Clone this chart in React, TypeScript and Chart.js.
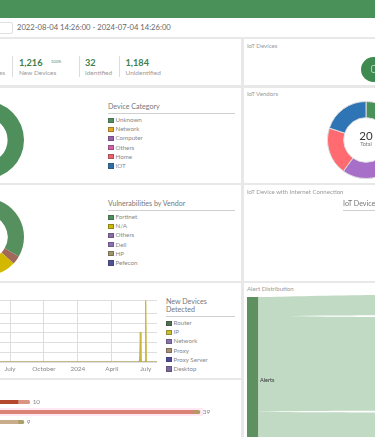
import React, { useEffect, useRef } from "react";
import { Chart, registerables } from "chart.js";

Chart.register(...registerables);

const FONT = "Lato, 'Open Sans', sans-serif";

const categoryLabels = ["Unknown", "Network", "Computer", "Others", "Home", "IOT"];
const categoryColors = ["#4f8f5b", "#e8a820", "#9a5fb0", "#d65fa8", "#f0606a", "#2b70a8"];
const categoryValues = [1184, 0, 0, 0, 0, 0];

const vulnLegend = ["Fortinet", "N/A", "Others", "Dell", "HP", "Pefecon"];
const vulnLegendColors = ["#4f8f5b", "#c8b800", "#8a6aa8", "#8a70b8", "#a09468", "#4f4f9a"];
const vulnLabels = ["Fortinet", "HP", "N/A", "Others", "Dell", "Pefecon"];
const vulnColors = ["#55905e", "#a0695a", "#d2b900", "#8a6aa8", "#8a70b8", "#4f4f9a"];
const vulnValues = [33.3, 3.6, 21, 15, 15, 12];

const vendorLabels = ["Vendor A", "Vendor B", "Vendor C", "Vendor D", "Vendor E"];
const vendorColors = ["#4a9159", "#e8a820", "#a86fc8", "#ff6b70", "#2f74b5"];
const vendorValues = [4, 4, 4, 4, 4];

const newDeviceLegend = ["Router", "IP", "Network", "Proxy", "Proxy Server", "Desktop"];
const newDeviceColors = ["#4f6f4f", "#c8c030", "#8a70b0", "#a89070", "#4a48a0", "#7a68a0"];
const monthTicks: Record<number, string> = { 0: "July", 3: "October", 6: "2024", 9: "April", 12: "July" };
const ipX = [-1, 11.46, 11.52, 11.58, 11.94, 12, 12.06, 13];
const ipY = [0, 0, 31, 0, 0, 63.5, 0, 0];
const proxyServerX = [-1, 11.42, 11.52, 11.62, 11.92, 12, 12.08, 13];
const proxyServerY = [0, 0, 5, 0, 0, 1.5, 0, 0];

const barLabels = ["A", "B", "C"];
const barTotals = [10, 39, 9];
const barPrimary = [8, 38, 8];
const barSecondary = [2, 1, 1];
const barPrimaryColors = ["#b4492f", "#da8273", "#c9ac8c"];
const barSecondaryColors = ["#d99482", "#b29c63", "#aaa06a"];

const flowX = [0, 20, 45, 100];
const band1Top = [0, -0.3, -1, -2];
const band1Bottom = [19, 19, 18.7, 18.3];
const band2Top = [19, 19, 19.4, 19.9];
const band2Bottom = [114.6, 114.3, 114.0, 113.8];
const band3Top = [114.6, 114.9, 115.2, 115.4];
const band3Bottom = [146, 146, 146, 146];
const nodeX = [-10, 0];
const nodeTop = [0, 0];
const nodeBottom = [146, 146];

function useChart(make: (c: HTMLCanvasElement) => Chart) {
  const ref = useRef<HTMLCanvasElement | null>(null);
  useEffect(() => {
    if (!ref.current) return;
    const chart = make(ref.current);
    return () => chart.destroy();
  }, []);
  return ref;
}

function Abs({ x, y, w, h, bg, style, children }: any) {
  return (
    <div style={{ position: "absolute", left: x, top: y, width: w, height: h, background: bg, ...style }}>{children}</div>
  );
}

function Txt({ x, y, size = 6.1, color = "#9a9a9a", weight = 400, children, right }: any) {
  return (
    <div
      style={{
        position: "absolute",
        left: right ? undefined : x,
        right: right ? 375 - x : undefined,
        top: y - size * 0.6,
        fontSize: size,
        lineHeight: `${size * 1.2}px`,
        color,
        fontWeight: weight,
        whiteSpace: "nowrap",
      }}
    >
      {children}
    </div>
  );
}

function Donut({ x, y, size, labels, values, colors, border, borderColor }: any) {
  const ref = useChart(
    (c) =>
      new Chart(c, {
        type: "doughnut",
        data: { labels, datasets: [{ data: values, backgroundColor: colors, borderWidth: border, borderColor }] },
        options: {
          animation: false,
          responsive: false,
          cutout: "58%",
          plugins: { legend: { display: false }, tooltip: { enabled: false } },
        },
      })
  );
  return <canvas ref={ref} width={size} height={size} style={{ position: "absolute", left: x, top: y, width: size, height: size }} />;
}

function Legend({ x, y, w, title, labels, colors }: any) {
  const titles = Array.isArray(title) ? title : [title];
  const lineY = y + 6 + (titles.length - 1) * 8;
  return (
    <>
      {titles.map((t: string, i: number) => (
        <Txt key={t} x={x} y={y + i * 8} size={7.1} color="#777">
          {t}
        </Txt>
      ))}
      <Abs x={x} y={lineY} w={w} h={1} bg="#cfcfcf" />
      {labels.map((l: string, i: number) => (
        <React.Fragment key={l}>
          <Abs
            x={x}
            y={lineY + 4.5 + i * 9.1}
            w={3.6}
            h={3.6}
            bg={colors[i]}
            style={{ border: "1px solid rgba(60,60,60,0.4)", boxSizing: "content-box" }}
          />
          <Txt x={x + 7.5} y={lineY + 7 + i * 9.1} size={6.2} color="#888">
            {l}
          </Txt>
        </React.Fragment>
      ))}
    </>
  );
}

function LineChart() {
  const ref = useChart(
    (c) =>
      new Chart(c, {
        type: "line",
        data: {
          datasets: [
            {
              label: "IP",
              data: ipX.map((x, i) => ({ x, y: ipY[i] })),
              borderColor: "#c8b840",
              backgroundColor: "rgba(200,184,64,0.8)",
              borderWidth: 1,
              pointRadius: 0,
              fill: true,
              tension: 0,
            },
            {
              label: "Proxy Server",
              data: proxyServerX.map((x, i) => ({ x, y: proxyServerY[i] })),
              borderColor: "#8078b8",
              backgroundColor: "rgba(122,116,184,0.5)",
              borderWidth: 1.2,
              pointRadius: 0,
              fill: true,
              tension: 0,
            },
          ],
        },
        options: {
          animation: false,
          responsive: false,
          layout: { padding: 0 },
          plugins: { legend: { display: false }, tooltip: { enabled: false } },
          scales: {
            x: {
              type: "linear",
              min: -0.887,
              max: 13,
              grid: { color: "#dddddd", drawTicks: false },
              border: { display: false },
              ticks: {
                stepSize: 3,
                includeBounds: false,
                maxRotation: 0,
                autoSkip: false,
                padding: 3,
                color: "#888",
                font: { family: FONT, size: 6.4 },
                callback: (v: any) => monthTicks[v] ?? "",
              },
              afterFit: (s: any) => {
                s.height = 12;
              },
            },
            y: {
              min: 0,
              max: 64,
              grid: { color: "#dedede", drawTicks: false },
              border: { display: false },
              ticks: { display: false, stepSize: 10 },
            },
          },
        },
      })
  );
  return <canvas ref={ref} width={157} height={74} style={{ position: "absolute", left: 0, top: 300, width: 157, height: 74 }} />;
}

function BarChart() {
  const totalsPlugin = {
    id: "totals",
    afterDatasetsDraw(chart: any) {
      const { ctx, scales } = chart;
      ctx.save();
      ctx.font = `6.4px ${FONT}`;
      ctx.fillStyle = "#888";
      ctx.textBaseline = "middle";
      barTotals.forEach((t, i) => {
        ctx.fillText(String(t), scales.x.getPixelForValue(t) + 3, scales.y.getPixelForValue(i) - 0.5);
      });
      ctx.restore();
    },
  };
  const ref = useChart(
    (c) =>
      new Chart(c, {
        type: "bar",
        data: {
          labels: barLabels,
          datasets: [
            { data: barPrimary, backgroundColor: barPrimaryColors, barThickness: 3.5, borderRadius: 1 },
            { data: barSecondary, backgroundColor: barSecondaryColors, barThickness: 3.5, borderRadius: 1.5 },
          ],
        },
        plugins: [totalsPlugin],
        options: {
          indexAxis: "y",
          animation: false,
          responsive: false,
          layout: { padding: 0 },
          plugins: { legend: { display: false }, tooltip: { enabled: false } },
          scales: {
            x: { stacked: true, display: false, min: 0, max: 45 },
            y: { stacked: true, display: false },
          },
        },
      })
  );
  return <canvas ref={ref} width={264} height={30} style={{ position: "absolute", left: -28.6, top: 397, width: 264, height: 30 }} />;
}

function SankeyChart() {
  const flow = "#c1dac4";
  const edge = (xs: number[], ys: number[], fill: any, color: string) => ({
    data: xs.map((x, i) => ({ x, y: ys[i] })),
    borderWidth: 0,
    pointRadius: 0,
    tension: 0.3,
    backgroundColor: color,
    fill,
  });
  const ref = useChart(
    (c) =>
      new Chart(c, {
        type: "line",
        data: {
          datasets: [
            edge(flowX, band1Top, "+1", flow),
            edge(flowX, band1Bottom, false, flow),
            edge(flowX, band2Top, "+1", flow),
            edge(flowX, band2Bottom, false, flow),
            edge(flowX, band3Top, "+1", flow),
            edge(flowX, band3Bottom, false, flow),
            edge(nodeX, nodeTop, "+1", "#5f9060"),
            edge(nodeX, nodeBottom, false, "#5f9060"),
          ],
        },
        options: {
          animation: false,
          responsive: false,
          layout: { padding: 0 },
          plugins: { legend: { display: false }, tooltip: { enabled: false } },
          scales: {
            x: { type: "linear", display: false, min: -10, max: 100 },
            y: { type: "linear", display: false, reverse: true, min: -2, max: 140 },
          },
        },
      })
  );
  return <canvas ref={ref} width={128} height={142} style={{ position: "absolute", left: 247, top: 295, width: 128, height: 142 }} />;
}

export default function App() {
  const card = { background: "#fff" };
  return (
    <div
      style={{
        position: "fixed",
        left: 0,
        top: 0,
        width: 375,
        height: 437,
        overflow: "hidden",
        background: "#e8e8e8",
        fontFamily: FONT,
      }}
    >
      <Abs x={0} y={0} w={375} h={18} bg="#4a9159" />
      <Abs x={0} y={18} w={375} h={19} bg="#fff" />
      <Abs x={-10} y={22} w={23} h={12} style={{ ...card, border: "1px solid #e0e0e0", borderRadius: 2, boxSizing: "border-box" }} />
      <Txt x={17} y={27.5} size={7.65} color="#666">
        2022-08-04 14:26:00 - 2024-07-04 14:26:00
      </Txt>

      <Abs x={0} y={39} w={241} h={46} style={card} />
      <Abs x={0} y={88} w={241} h={95} style={card} />
      <Abs x={0} y={185} w={241} h={96} style={card} />
      <Abs x={0} y={283} w={241} h={95} style={card} />
      <Abs x={0} y={380} w={241} h={57} style={card} />
      <Abs x={244} y={39} w={131} h={46} style={card} />
      <Abs x={244} y={88} w={131} h={95} style={card} />
      <Abs x={244} y={185} w={131} h={96} style={card} />
      <Abs x={244} y={283} w={131} h={154} style={card} />

      <Txt x={5} y={72.5} size={6.5} right>
        es
      </Txt>
      <Abs x={11.5} y={56} w={1} h={21} bg="#dcdcdc" />
      <Txt x={19} y={62.7} size={9.2} weight={700} color="#3e7f50">
        1,216
      </Txt>
      <Txt x={51} y={62} size={4} color="#5c8c68">
        100%
      </Txt>
      <Txt x={19} y={72.5} size={6.5}>
        New Devices
      </Txt>
      <Abs x={78.5} y={56} w={1} h={21} bg="#dcdcdc" />
      <Txt x={85} y={62.7} size={9.2} weight={700} color="#3e7f50">
        32
      </Txt>
      <Txt x={85} y={72.5} size={6.5}>
        Identified
      </Txt>
      <Abs x={118.5} y={56} w={1} h={21} bg="#dcdcdc" />
      <Txt x={125.5} y={62.7} size={9.2} weight={700} color="#3e7f50">
        1,184
      </Txt>
      <Txt x={125.5} y={72.5} size={6.5}>
        Unidentified
      </Txt>

      <Txt x={247} y={45.5}>
        IoT Devices
      </Txt>
      <Abs x={360.5} y={56.5} w={25} h={25} bg="#3f8a50" style={{ borderRadius: "50%" }} />
      <Abs x={371} y={65} w={8} h={8} style={{ border: "1px solid #a9cdb2", borderRadius: 2, boxSizing: "border-box" }} />

      <Donut x={-54} y={101} size={78} labels={categoryLabels} values={categoryValues} colors={categoryColors} border={0} borderColor="#fff" />
      <Legend x={108} y={107} w={127} title="Device Category" labels={categoryLabels} colors={categoryColors} />

      <Donut x={-54} y={198} size={78} labels={vulnLabels} values={vulnValues} colors={vulnColors} border={0} borderColor="#fff" />
      <Legend x={108} y={204} w={127} title="Vulnerabilities by Vendor" labels={vulnLegend} colors={vulnLegendColors} />

      <LineChart />
      <Legend x={166} y={302} w={69} title={["New Devices", "Detected"]} labels={newDeviceLegend} colors={newDeviceColors} />

      <Abs x={0} y={408} w={203} h={8} bg="#ffe9f4" />
      <BarChart />

      <Txt x={247} y={94}>
        IoT Vendors
      </Txt>
      <Donut x={327} y={101} size={78} labels={vendorLabels} values={vendorValues} colors={vendorColors} border={1} borderColor="#ddd" />
      <div style={{ position: "absolute", left: 346, width: 40, top: 129, textAlign: "center", fontSize: 11.5, lineHeight: "14px", color: "#333" }}>20</div>
      <div style={{ position: "absolute", left: 346, width: 40, top: 141, textAlign: "center", fontSize: 5.5, lineHeight: "7px", color: "#777" }}>Total</div>

      <Txt x={247} y={191.5}>
        IoT Device with Internet Connection
      </Txt>
      <Txt x={343} y={204} size={7.1} color="#777">
        IoT Devices
      </Txt>
      <Abs x={343} y={210} w={40} h={1} bg="#cfcfcf" />

      <Txt x={247} y={289}>
        Alert Distribution
      </Txt>
      <SankeyChart />
      <Txt x={260} y={380} size={5.6} color="#333">
        Alerts
      </Txt>
    </div>
  );
}
